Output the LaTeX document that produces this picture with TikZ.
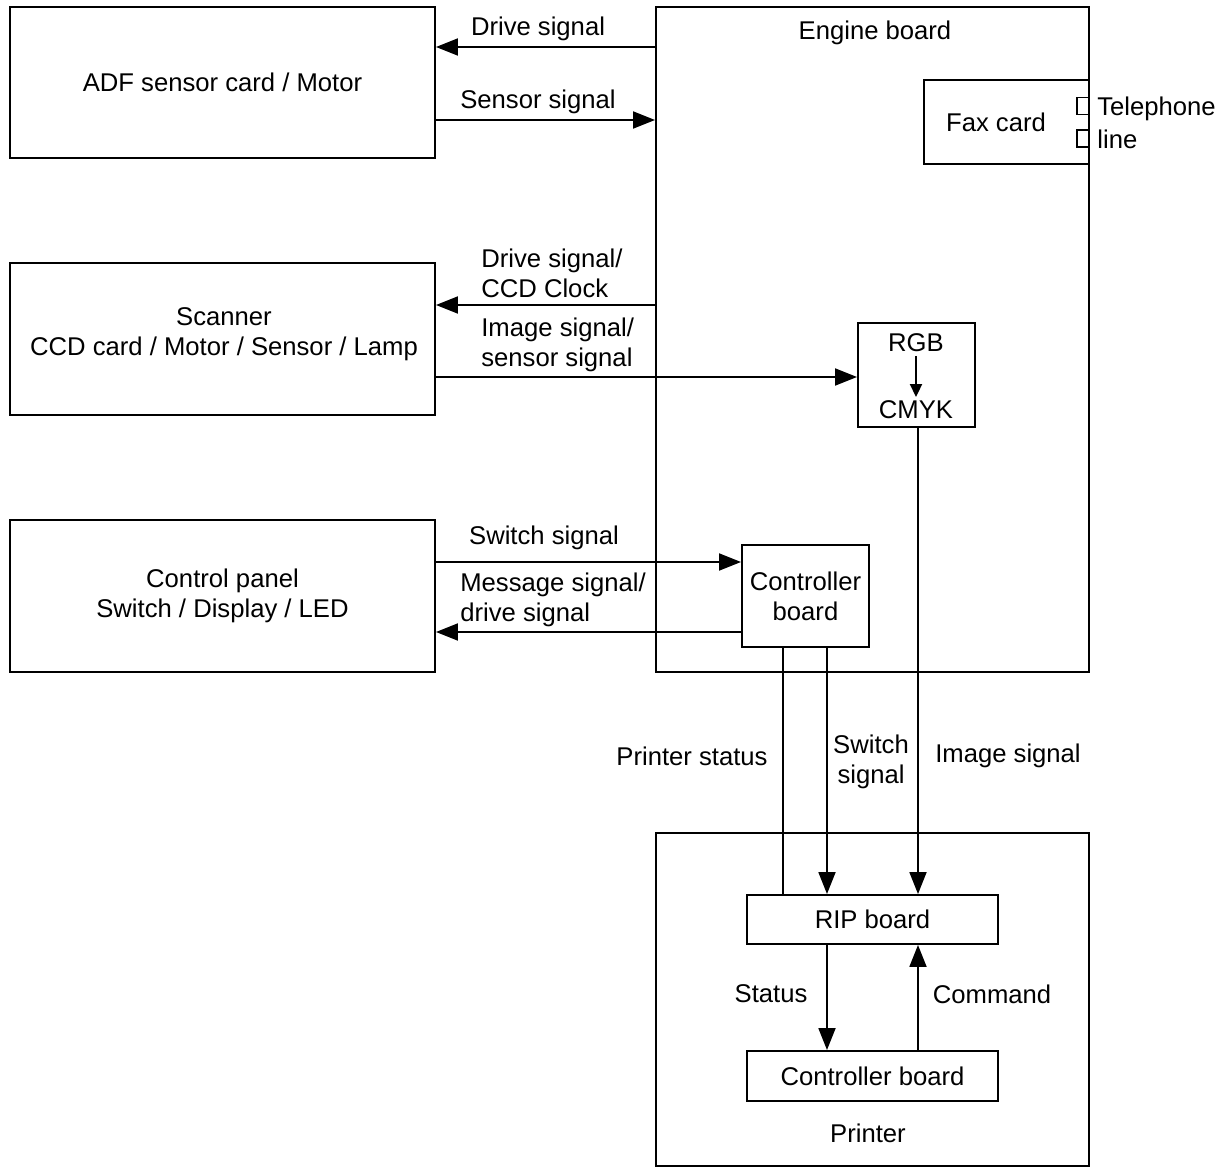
\documentclass[tikz,border=0pt]{standalone}
\usepackage{fontspec}
\setmainfont{Liberation Sans}
\usetikzlibrary{arrows.meta,positioning}

\tikzset{
  blk/.style={draw,line width=1.1pt,inner sep=0pt,align=center},
  sig/.style={line width=1.1pt,-{Triangle[length=0.44cm,width=0.34cm]}},
  wire/.style={line width=1.1pt},
  lbl/.style={inner sep=0pt,align=center},
  lbll/.style={inner sep=0pt,align=left,anchor=west},
}

\begin{document}
\begin{tikzpicture}[x=0.02cm,y=-0.02cm,font=\fontsize{14.6}{17}\selectfont]
\useasboundingbox (0,0) rectangle (1226,1168);

% units on the left
\node[blk,minimum width=425*0.02cm,minimum height=151*0.02cm] (adf) at (222.5,82.5) {ADF sensor card / Motor};
\node[blk,minimum width=425*0.02cm,minimum height=152*0.02cm] (scan) at (222.5,339) {};
\node[lbl] (scantxt) at (224,334) {Scanner\\CCD card / Motor / Sensor / Lamp};
\node[blk,minimum width=425*0.02cm,minimum height=152*0.02cm] (panel) at (222.5,596) {Control panel\\Switch / Display / LED};

% engine board
\node[blk,minimum width=433*0.02cm,minimum height=665*0.02cm] (engine) at (872.5,339.5) {};
\node[lbl] (englbl) at (875,33) {Engine board};
\node[blk,minimum width=165*0.02cm,minimum height=84*0.02cm] (fax) at (1006.5,122) {};
\node[lbl] (faxtxt) at (996,122) {Fax card};
\node[blk,minimum width=12*0.02cm,minimum height=17*0.02cm] (jack1) at (1083,106) {};
\node[blk,minimum width=12*0.02cm,minimum height=17*0.02cm] (jack2) at (1083,138.5) {};
\node[lbll] (tel) at (1097,109) {Telephone};
\node[lbll] (line) at (1097,139) {line};

\node[blk,minimum width=117*0.02cm,minimum height=104*0.02cm] (rgb) at (916.5,375) {};
\node[lbl,inner sep=2pt] (rgbtxt) at (916,343) {RGB};
\node[lbl,inner sep=2pt] (cmyktxt) at (916,410) {CMYK};
\draw[line width=1.1pt,-{Triangle[length=0.26cm,width=0.24cm]}] (rgbtxt) -- (cmyktxt);

\node[blk,minimum width=127*0.02cm,minimum height=102*0.02cm] (ctrl) at (805.5,596) {Controller\\board};

% printer
\node[blk,minimum width=433*0.02cm,minimum height=333*0.02cm] (printer) at (872.5,999.5) {};
\node[lbl] (prtlbl) at (868,1133) {Printer};
\node[blk,minimum width=251*0.02cm,minimum height=49*0.02cm] (rip) at (872.5,919.5) {RIP board};
\node[blk,minimum width=251*0.02cm,minimum height=50*0.02cm] (pctrl) at (872.5,1076) {Controller board};

% signals
\draw[sig] (engine.west |- 0,47) -- (adf.east |- 0,47);
\node[lbl] at (538,29) {Drive signal};
\draw[sig] (adf.east |- 0,120) -- (engine.west |- 0,120);
\node[lbl] at (538,102) {Sensor signal};

\draw[sig] (engine.west |- 0,305) -- (scan.east |- 0,305);
\node[lbll] at (481,273) {Drive signal/\\CCD Clock};
\draw[sig] (scan.east |- 0,377) -- (rgb.west |- 0,377);
\node[lbll] at (481,345) {Image signal/\\sensor signal};

\draw[sig] (panel.east |- 0,562) -- (ctrl.west |- 0,562);
\node[lbl] at (544,538) {Switch signal};
\draw[sig] (ctrl.west |- 0,632) -- (panel.east |- 0,632);
\node[lbll] at (460,600) {Message signal/\\drive signal};

\draw[wire] (ctrl.south -| 783,0) -- (rip.north -| 783,0);
\node[lbl] at (692,756) {Printer status};
\draw[sig] (ctrl.south -| 827,0) -- (rip.north -| 827,0);
\node[lbl] at (871,762) {Switch\\signal};
\draw[sig] (rgb.south -| 918,0) -- (rip.north -| 918,0);
\node[lbl] at (1008,756) {Image signal};

\draw[sig] (rip.south -| 827,0) -- (pctrl.north -| 827,0);
\node[lbl] at (771,994) {Status};
\draw[sig] (pctrl.north -| 918,0) -- (rip.south -| 918,0);
\node[lbl] at (992,994) {Command};
\end{tikzpicture}
\end{document}
